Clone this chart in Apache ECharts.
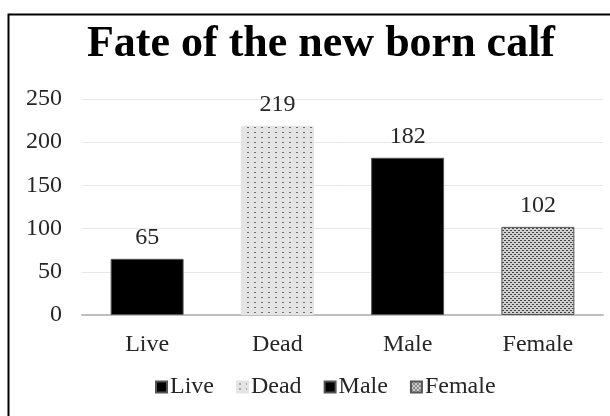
<!DOCTYPE html>
<html>
<head>
<meta charset="utf-8">
<script src="https://cdn.jsdelivr.net/npm/echarts@6/dist/echarts.min.js"></script>
<style>
  html, body { margin: 0; padding: 0; background: #fff; }
  #chart { width: 610px; height: 416px; }
</style>
</head>
<body>
<div id="chart"></div>
<script>
const categories = ['Live', 'Dead', 'Male', 'Female']
const values = [65, 219, 182, 102]
const yTicks = [0, 50, 100, 150, 200, 250]

// small tiled fills to mimic the Excel pattern fills
const makePattern = (w, h, bg, dot, dots) => {
  const c = document.createElement('canvas')
  c.width = w
  c.height = h
  const ctx = c.getContext('2d')
  ctx.fillStyle = bg
  ctx.fillRect(0, 0, w, h)
  ctx.fillStyle = dot
  dots.forEach(d => ctx.fillRect(d[0], d[1], d[2], d[3]))
  return { image: c, repeat: 'repeat' }
}

const dotted = makePattern(7, 5, '#e4e4e4', '#6e6e6e', [[2, 2, 2, 1]])
const checked = makePattern(4, 4, '#cfcfcf', '#454545', [[0, 0, 2, 1], [2, 2, 2, 1]])

const fills = ['#000000', dotted, '#000000', checked]
const serif = '"Liberation Serif", "Times New Roman", serif'
const textColor = '#262626'

const chart = echarts.init(document.getElementById('chart'))

const series = categories.map((name, i) => ({
  name: name,
  type: 'bar',
  stack: 'one',
  barWidth: '56%',
  data: values.map((v, j) => (j === i ? v : '-')),
  itemStyle: {
    color: fills[i],
    borderColor: i === 1 ? '#e4e4e4' : '#555',
    borderWidth: 1
  },
  label: {
    show: true,
    position: 'top',
    distance: 9,
    fontFamily: serif,
    fontSize: 24,
    color: textColor
  }
}))

chart.setOption({
  animation: false,
  backgroundColor: '#fff',
  graphic: [
    {
      type: 'rect',
      shape: { x: 8.5, y: 14.5, width: 620, height: 420 },
      style: { fill: null, stroke: '#000', lineWidth: 2 }
    }
  ],
  title: {
    text: 'Fate of the new born calf',
    left: 316,
    textAlign: 'center',
    top: 18,
    textStyle: {
      fontFamily: serif,
      fontWeight: 'bold',
      fontSize: 44,
      color: '#000'
    }
  },
  legend: {
    bottom: 12,
    left: 150,
    itemWidth: 11,
    itemHeight: 11,
    itemGap: 22,
    icon: 'rect',
    textStyle: {
      fontFamily: serif,
      fontSize: 24,
      color: textColor,
      padding: [0, 0, 0, -2]
    },
    data: categories
  },
  grid: {
    left: 82,
    right: 7,
    top: 99,
    bottom: 101
  },
  xAxis: {
    type: 'category',
    data: categories,
    axisTick: { show: false },
    axisLine: { lineStyle: { color: '#bfbfbf', width: 2 } },
    axisLabel: {
      margin: 18,
      fontFamily: serif,
      fontSize: 24,
      color: textColor
    }
  },
  yAxis: {
    type: 'value',
    min: yTicks[0],
    max: yTicks[yTicks.length - 1],
    interval: 50,
    axisLine: { show: false },
    axisTick: { show: false },
    splitLine: { lineStyle: { color: '#e8e8e8', width: 1 } },
    axisLabel: {
      margin: 20,
      fontFamily: serif,
      fontSize: 24,
      color: textColor
    }
  },
  series: series
})
</script>
</body>
</html>
